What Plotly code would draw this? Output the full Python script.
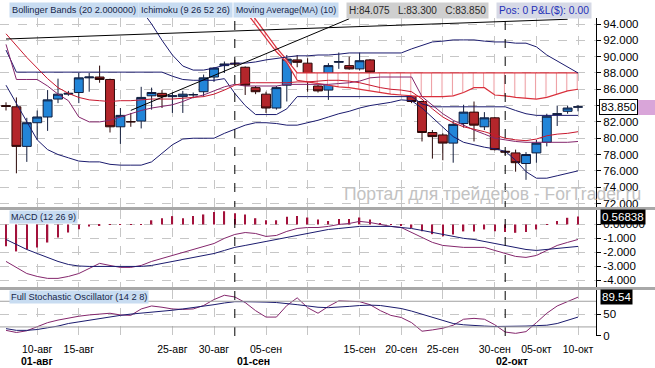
import plotly.graph_objects as go

# ---------------- DATA ----------------
dates = ["2011-08-07","2011-08-08","2011-08-09","2011-08-10","2011-08-11","2011-08-12",
         "2011-08-14","2011-08-15","2011-08-16","2011-08-17","2011-08-18","2011-08-19",
         "2011-08-21","2011-08-22","2011-08-23","2011-08-24","2011-08-25","2011-08-26",
         "2011-08-28","2011-08-29","2011-08-30","2011-08-31","2011-09-01","2011-09-02",
         "2011-09-04","2011-09-05","2011-09-06","2011-09-07","2011-09-08","2011-09-09",
         "2011-09-11","2011-09-12","2011-09-13","2011-09-14","2011-09-15","2011-09-16",
         "2011-09-18","2011-09-19","2011-09-20","2011-09-21","2011-09-22","2011-09-23",
         "2011-09-25","2011-09-26","2011-09-27","2011-09-28","2011-09-29","2011-09-30",
         "2011-10-02","2011-10-03","2011-10-04","2011-10-05","2011-10-06","2011-10-07",
         "2011-10-09","2011-10-10"]

opens = [84.0, 83.85, 79.0, 81.9, 82.6, 84.8, 85.4, 85.6, 87.4, 87.5,
         87.2, 81.4, 82.05, 82.1, 85.2, 85.5, 85.1, 85.1, 85.3, 85.7,
         87.5, 88.9, 89.2, 88.7, 86.2, 85.4, 83.7, 86.5, 89.6, 89.2,
         86.4, 85.9, 89.3, 88.9, 88.5, 89.6, 87.5, 86.9, 86.0, 86.5,
         84.5, 80.7, 80.4, 79.4, 81.8, 83.2, 81.4, 82.5, 78.4, 78.2,
         76.9, 78.2, 79.5, 82.9, 83.3, 83.8]
highs = [84.4, 85.0, 82.5, 83.4, 85.9, 87.3, 85.8, 88.0, 88.0, 88.9,
         87.3, 83.7, 83.1, 86.3, 86.2, 85.9, 85.6, 85.8, 85.6, 87.8,
         88.7, 89.4, 89.6, 88.8, 86.4, 85.7, 86.4, 90.2, 90.2, 89.8,
         86.5, 89.2, 90.5, 90.0, 90.5, 89.7, 87.6, 87.2, 86.9, 86.8,
         84.6, 81.0, 80.6, 82.1, 84.1, 84.5, 83.2, 82.6, 78.5, 78.6,
         78.3, 79.8, 83.0, 84.0, 84.0, 84.075]
lows = [83.4, 75.7, 77.1, 79.8, 80.9, 84.3, 85.2, 84.3, 85.7, 86.8,
        80.7, 79.3, 81.4, 81.2, 83.5, 83.7, 83.1, 83.1, 84.9, 85.1,
        86.9, 88.0, 88.8, 85.3, 85.4, 83.1, 83.5, 84.5, 88.7, 85.7,
        85.6, 84.7, 88.5, 88.4, 88.3, 87.5, 86.8, 85.6, 85.5, 84.3,
        79.6, 77.5, 77.3, 77.0, 81.3, 79.6, 81.0, 78.5, 78.0, 75.9,
        74.9, 77.0, 79.0, 81.5, 83.0, 83.3]
closes = [83.9, 79.0, 81.9, 82.6, 84.7, 85.4, 85.5, 87.4, 87.5, 87.2,
          81.4, 82.8, 82.0, 85.0, 85.6, 85.1, 85.2, 85.4, 85.35, 87.4,
          88.6, 89.1, 89.1, 86.5, 85.7, 83.7, 86.2, 89.7, 89.3, 87.0,
          85.8, 88.9, 89.4, 88.5, 89.5, 88.1, 86.9, 85.9, 86.7, 84.5,
          80.7, 80.2, 79.4, 81.7, 83.2, 81.6, 82.5, 78.6, 78.3, 77.0,
          78.0, 79.4, 82.7, 83.0, 83.7, 83.85]

bb_upper = [None, None, None, None, None, None, None, None, None, None,
            None, None, None, 95.75, 94.0, 92.0, 90.2, 88.85, 88.35, 88.35,
            88.6, 88.95, 89.2, 89.2, 89.35, 89.6, 89.8, 89.95, 90.1, 90.1,
            90.2, 90.2, 90.3, 90.45, 90.45, 90.45, 90.45, 90.45, 90.45, 90.95,
            91.4, 91.8, 91.9, 92.05, 92.05, 92.05, 91.9, 91.8, 91.8, 91.65,
            91.65, 91.2, 90.2, 89.45, 88.75, 88.0]
bb_lower = [86.5, 84.3, 82.0, 79.8, 78.6, 78.0, 77.6, 77.2, 77.1, 77.1,
            76.8, 76.7, 76.7, 76.7, 77.1, 78.2, 79.2, 79.9, 80.0, 80.0,
            80.0, 80.6, 81.1, 81.6, 81.9, 81.9, 81.8, 81.6, 81.6, 81.9,
            82.2, 82.6, 83.0, 83.3, 83.7, 84.0, 84.2, 84.4, 84.7, 84.6,
            83.7, 82.5, 81.3, 80.2, 79.5, 79.2, 78.9, 78.7, 78.4, 77.3,
            75.9, 75.1, 75.1, 75.4, 75.7, 76.0]
kijun = [90.8, 88.1, 88.1, 88.1, 88.1, 88.1, 88.1, 88.1, 88.1, 88.1,
         88.1, 88.1, 88.1, 88.1, 88.1, 88.1, 87.6, 87.2, 87.1, 87.1,
         87.1, 87.3, 85.5, 84.0, 82.9, 82.9, 82.9, 83.6, 85.1, 85.1,
         85.1, 85.1, 85.1, 85.1, 85.1, 85.1, 85.1, 85.1, 85.1, 85.1,
         84.2, 83.85, 83.85, 83.85, 83.85, 83.85, 83.85, 83.85, 83.85, 83.4,
         83.0, 82.8, 82.8, 82.8, 82.8, 82.8]
tenkan = [91.5, 87.2, 87.2, 87.2, 86.4, 85.4, 84.6, 82.6, 82.0, 82.0,
          82.2, 82.6, 83.0, 83.4, 83.7, 83.9, 84.1, 84.5, 85.0, 85.3,
          85.8, 86.3, 86.6, 86.4, 86.4, 86.4, 86.4, 86.6, 86.6, 86.6,
          86.6, 86.6, 86.7, 86.8, 87.0, 87.4, 87.5, 87.5, 87.5, 87.5,
          85.1, 84.0, 83.0, 82.2, 81.6, 81.0, 80.5, 80.0, 79.8, 79.6,
          79.5, 79.5, 79.5, 79.5, 79.5, 79.6]
ma10 = [92.8, 91.3, 89.9, 88.6, 87.3, 86.2, 85.5, 85.0, 84.7, 84.6,
        84.5, 84.6, 84.6, 84.7, 84.8, 84.8, 84.8, 84.9, 85.0, 85.1,
        85.4, 85.9, 86.5, 86.8, 86.8, 86.8, 86.8, 86.8, 86.9, 86.9,
        87.0, 87.1, 87.1, 87.0, 86.8, 86.5, 86.2, 86.0, 85.9, 85.7,
        84.8, 83.6, 82.6, 81.9, 81.4, 81.1, 80.8, 80.4, 80.0, 79.8,
        79.7, 79.9, 80.3, 80.5, 80.6, 80.8]
kumo_a = [None, None, None, None, None, None, None, None, None, None,
          None, None, None, None, None, None, None, None, None, None,
          None, None, None, 95.6, 93.9, 92.2, 90.6, 89.3, 87.1, 86.9,
          86.7, 86.5, 86.3, 86.2, 86.0, 85.8, 85.6, 85.4, 85.3, 85.2,
          85.1, 85.1, 85.1, 85.2, 85.6, 86.2, 86.2, 85.3, 85.2, 85.0,
          84.9, 84.8, 85.0, 85.4, 85.8, 86.0]
kumo_b = [None, None, None, None, None, None, None, None, None, None,
          None, None, None, None, None, None, None, None, None, None,
          None, None, None, 96.3, 94.6, 92.8, 91.1, 89.6, 88.0, 88.0,
          88.0, 88.0, 88.0, 88.0, 88.0, 88.0, 88.0, 88.0, 88.0, 88.0,
          88.0, 88.0, 88.0, 88.0, 88.0, 88.0, 88.0, 88.0, 88.0, 88.0,
          88.0, 88.0, 88.0, 88.0, 88.0, 88.0]
trend1_dates = ["2011-08-07", "2011-10-09"]
trend1_prices = [92.16, 94.58]
trend2_dates = ["2011-08-21", "2011-09-14"]
trend2_prices = [83.41, 94.64]

macd_line = [-2.66, -3.09, -3.53, -3.74, -3.88, -3.88, -3.74, -3.53, -3.17, -2.8,
             -2.95, -3.09, -3.09, -2.95, -2.66, -2.45, -2.23, -2.01, -1.8, -1.58,
             -1.37, -1.0, -0.72, -0.58, -0.65, -0.86, -0.79, -0.5, -0.29, -0.22,
             -0.22, -0.14, 0.0, 0.07, 0.22, 0.14, 0.0, -0.14, -0.22, -0.58,
             -0.94, -1.29, -1.51, -1.58, -1.65, -1.65, -1.65, -1.87, -2.09, -2.3,
             -2.37, -2.23, -1.87, -1.51, -1.29, -1.08]
macd_signal = [-1.08, -1.44, -1.8, -2.09, -2.37, -2.66, -2.88, -2.99, -3.02, -3.02,
               -3.02, -3.02, -3.02, -3.02, -2.95, -2.8, -2.66, -2.52, -2.37, -2.23,
               -2.09, -1.87, -1.65, -1.51, -1.37, -1.22, -1.08, -0.94, -0.79, -0.65,
               -0.5, -0.36, -0.29, -0.22, -0.14, -0.14, -0.14, -0.14, -0.22, -0.29,
               -0.43, -0.58, -0.72, -0.86, -1.0, -1.08, -1.22, -1.37, -1.51, -1.65,
               -1.8, -1.87, -1.8, -1.73, -1.65, -1.58]
macd_hist = [-1.56, -1.94, -1.8, -1.66, -1.3, -0.94, -0.58, -0.35, -0.15, -0.05,
             -0.03, 0.02, -0.02, 0.03, 0.3, 0.45, 0.6, 0.45, 0.6, 0.72,
             0.9, 0.95, 0.8, 0.72, 0.45, 0.3, 0.3, 0.55, 0.6, 0.5,
             0.35, 0.25, 0.4, 0.4, 0.5, 0.35, 0.1, 0.03, -0.05, -0.25,
             -0.48, -0.7, -0.85, -0.72, -0.5, -0.5, -0.36, -0.48, -0.55, -0.6,
             -0.55, -0.36, 0.03, 0.25, 0.48, 0.57]
macd_last = 0.56838

stoch_k = [12, 7, 11, 20, 30, 36, 41, 45, 48, 50,
           52, 48, 47, 62, 69, 66, 62, 61, 62, 70,
           84, 94, 90, 77, 58, 43, 43, 70, 88, 65,
           52, 68, 81, 80, 79, 72, 58, 47, 42, 30,
           10, 13, 17, 24, 38, 40, 38, 25, 8, 5,
           9, 30, 52, 69, 80, 89.54]
stoch_d = [16, 12, 12, 14, 18, 22, 28, 32, 36, 40,
           44, 47, 50, 52, 54, 57, 59, 62, 65, 68,
           72, 76, 79, 79, 79, 78, 77, 75, 72, 69,
           66, 65, 66, 68, 70, 71, 70, 67, 63, 57,
           50, 42, 35, 28, 25, 23, 22, 21, 21, 21,
           22, 23, 24, 28, 35, 43]
stoch_levels = [20, 80]

grid_dates = ["2011-08-10","2011-08-15","2011-08-19","2011-08-25","2011-08-30","2011-09-05",
              "2011-09-09","2011-09-15","2011-09-20","2011-09-25","2011-09-30","2011-10-05",
              "2011-10-10"]
grid_labels = ["10-авг","15-авг","","25-авг","30-авг","05-сен",
               "","15-сен","20-сен","25-сен","30-сен","05-окт","10-окт"]
month_sep_dates = ["2011-09-01", "2011-10-02"]
month_labels = ["01-авг", "01-сен", "02-окт"]
price_ticks = [72, 74, 76, 78, 80, 82, 84, 86, 88, 90, 92, 94]
price_ticktext = ["72.000","74.000","76.000","78.000","80.000","82.000","",
                  "86.000","88.000","90.000","92.000","94.000"]
macd_ticks = [0, -1, -2, -3, -4]
macd_ticktext = ["0.00000", "-1.000", "-2.000", "-3.000", "-4.000"]
stoch_ticks = [0, 50]
stoch_ticktext = ["0", "50"]

header_items = ["Bollinger Bands (20 2.000000)", "Ichimoku (9 26 52 26)", "Moving Average(MA) (10)"]
ohlc_header = "H:%.3f   L:%.3f   C:%.3f" % (highs[-1], lows[-1], closes[-1])
pos_header = "Pos: 0 P&L($): 0.00"
watermark = "Портал для трейдеров - ForTrader.ru"

# ---------------- STYLE / GEOMETRY ----------------
W, H = 655, 368
PL, PR, PT, PB = 0, 596, 18, 336
FONT = "Liberation Sans, Arial, sans-serif"
NAVY = "#1b1b6e"
RED = "#c8182e"
PURPLE = "#84266c"
CLOUD = "#d9303c"
GRID = "#c6c6c6"
HDR = "#c8dcf1"

def px(xp):
    return (xp - PL) / (PR - PL)

def py(yp):
    return (PB - yp) / (PB - PT)

X = list(range(len(dates)))
def ix(d):
    return dates.index(d)

fig = go.Figure()

def line(xs, ys, color, width=1, xa="x", ya="y", dash=None):
    fig.add_trace(go.Scatter(x=xs, y=ys, mode="lines",
                             line=dict(color=color, width=width, dash=dash),
                             xaxis=xa, yaxis=ya, hoverinfo="skip",
                             showlegend=False, connectgaps=False))

# Ichimoku cloud
kx = [i for i in X if kumo_a[i] is not None]
line(kx, [kumo_b[i] for i in kx], CLOUD, 1.2)
fig.add_trace(go.Scatter(x=kx, y=[kumo_a[i] for i in kx], mode="lines",
                         line=dict(color=CLOUD, width=1.2), fill="tonexty",
                         fillpattern=dict(shape="|", fgcolor=CLOUD, bgcolor="white",
                                          size=10.4, solidity=0.1),
                         xaxis="x", yaxis="y", hoverinfo="skip", showlegend=False))

# candles
fig.add_trace(go.Candlestick(x=X, open=opens, high=highs, low=lows, close=closes,
                             increasing=dict(line=dict(color="#111c3c", width=1), fillcolor="#2285d8"),
                             decreasing=dict(line=dict(color="#2a0808", width=1), fillcolor="#b3262b"),
                             whiskerwidth=0, xaxis="x", yaxis="y", hoverinfo="skip",
                             showlegend=False))

# indicator lines
line(X, bb_upper, NAVY)
line(X, bb_lower, NAVY)
line(X, kijun, NAVY)
line(X, tenkan, PURPLE)
line(X, ma10, RED)
line([ix(d) for d in trend1_dates], trend1_prices, "#000000", 1)
line([ix(d) for d in trend2_dates], trend2_prices, "#000000", 1)

# MACD
fig.add_trace(go.Bar(x=X, y=macd_hist, width=0.13, marker=dict(color="#a3123c", line=dict(width=0)),
                     xaxis="x2", yaxis="y2", hoverinfo="skip", showlegend=False))
line(X, macd_line, PURPLE, 1, "x2", "y2")
line(X, macd_signal, NAVY, 1, "x2", "y2")

# Stochastic
line(X, stoch_k, PURPLE, 1, "x3", "y3")
line(X, stoch_d, NAVY, 1, "x3", "y3")

xr = [(PL - 6) / 10.4, (PR - 6) / 10.4]
gidx = [ix(d) for d in grid_dates]
common_x = dict(range=xr, tickvals=gidx, showgrid=True, gridcolor=GRID, griddash="dash",
                gridwidth=1, zeroline=False, showline=False, fixedrange=True, automargin=False)
axis_font = dict(family=FONT, size=11.5, color="black")
common_y = dict(side="right", showgrid=True, gridcolor=GRID, griddash="dash", zeroline=False,
                showline=True, linecolor="black", linewidth=1, ticks="outside", ticklen=4,
                tickcolor="black", tickfont=axis_font, automargin=False, fixedrange=True)

d_main = [py(207), 1]
d_macd = [py(287), py(210)]
d_stoch = [0, py(290)]

fig.update_layout(
    width=W, height=H,
    margin=dict(l=PL, r=W - PR, t=PT, b=H - PB, pad=0),
    paper_bgcolor="white", plot_bgcolor="white",
    showlegend=False, boxgap=0.1, boxgroupgap=0.05,
    font=dict(family=FONT, color="black"),
    xaxis=dict(**common_x, anchor="y", showticklabels=False, rangeslider=dict(visible=False)),
    xaxis2=dict(**common_x, anchor="y2", showticklabels=False),
    xaxis3=dict(**common_x, anchor="y3", ticktext=grid_labels, showticklabels=True,
                ticks="outside", ticklen=3, tickcolor="rgba(0,0,0,0)",
                tickfont=dict(family=FONT, size=10.5, color="black")),
    yaxis=dict(**common_y, domain=d_main, anchor="x", range=[71.57, 94.735],
               tickvals=price_ticks, ticktext=price_ticktext),
    yaxis2=dict(**common_y, domain=d_macd, anchor="x2", range=[-4.5, 1.04],
                tickvals=macd_ticks, ticktext=macd_ticktext),
    yaxis3=dict(**common_y, domain=d_stoch, anchor="x3", range=[-1.2, 106.3],
                tickvals=stoch_ticks, ticktext=stoch_ticktext),
)

shapes = []
for d in month_sep_dates:
    shapes.append(dict(type="line", xref="x", yref="paper", x0=ix(d), x1=ix(d), y0=0, y1=1,
                       line=dict(color="black", width=1, dash="dash")))
for lv in stoch_levels:
    shapes.append(dict(type="line", xref="paper", yref="y3", x0=0, x1=1, y0=lv, y1=lv,
                       line=dict(color="#a0a0a0", width=1)))
for yp in (208.5, 288.5):
    shapes.append(dict(type="line", xref="paper", yref="paper", x0=0, x1=W / (PR - PL),
                       y0=py(yp), y1=py(yp), line=dict(color="#a8a8a8", width=3)))
shapes.append(dict(type="rect", xref="paper", yref="paper", x0=px(638), x1=px(655),
                   y0=py(115), y1=py(100), fillcolor="#d9a5d9", line=dict(width=0)))
fig.update_layout(shapes=shapes)

ann = []
hy = py(10)
hx = [9, 138, 233]
hsz = [9.2, 9.2, 8.8]
for t, x0, sz in zip(header_items, hx, hsz):
    ann.append(dict(text=t, xref="paper", yref="paper", x=px(x0), y=hy, xanchor="left",
                    yanchor="middle", showarrow=False, bgcolor=HDR, borderpad=2,
                    font=dict(family=FONT, size=sz, color="#17264a")))
ann.append(dict(text=ohlc_header, xref="paper", yref="paper", x=px(346), y=hy, xanchor="left",
                yanchor="middle", showarrow=False, bgcolor="#cfcfcf", borderpad=2,
                font=dict(family=FONT, size=10, color="#2a2a2a")))
ann.append(dict(text=pos_header, xref="paper", yref="paper", x=px(496), y=hy, xanchor="left",
                yanchor="middle", showarrow=False, bgcolor="#d6d9e6", borderpad=2,
                font=dict(family=FONT, size=10.3, color="#2430b8")))
ann.append(dict(text="MACD (12 26 9)", xref="paper", yref="paper", x=px(9), y=py(216.5),
                xanchor="left", yanchor="middle", showarrow=False, bgcolor=HDR, borderpad=1,
                font=dict(family=FONT, size=9, color="#17264a")))
ann.append(dict(text="Full Stochastic Oscillator (14 2 8)", xref="paper", yref="paper",
                x=px(9), y=py(296.5), xanchor="left", yanchor="middle", showarrow=False,
                bgcolor=HDR, borderpad=1, font=dict(family=FONT, size=9.3, color="#17264a")))
ann.append(dict(text=watermark, xref="paper", yref="paper", x=px(492), y=py(194),
                xanchor="center", yanchor="middle", showarrow=False,
                font=dict(family=FONT, size=17.5, color="#c2c2c2")))
ann.append(dict(text="%.3f" % closes[-1], xref="paper", yref="y", x=px(599), y=closes[-1],
                xanchor="left", yanchor="middle", showarrow=False, bgcolor="white",
                bordercolor="black", borderwidth=1, borderpad=1, font=axis_font))
ann.append(dict(text="%.5f" % macd_last, xref="paper", yref="y2", x=px(600), y=macd_last,
                xanchor="left", yanchor="middle", showarrow=False, bgcolor="black",
                borderpad=1, font=dict(family=FONT, size=11.5, color="white")))
ann.append(dict(text="%.2f" % stoch_k[-1], xref="paper", yref="y3", x=px(600), y=stoch_k[-1],
                xanchor="left", yanchor="middle", showarrow=False, bgcolor="black",
                borderpad=1, font=dict(family=FONT, size=11.5, color="white")))
for t, xc in zip(month_labels, [37, 253, 512]):
    ann.append(dict(text="<b>%s</b>" % t, xref="paper", yref="paper", x=px(xc), y=py(361),
                    xanchor="center", yanchor="middle", showarrow=False,
                    font=dict(family=FONT, size=10.5, color="black")))
fig.update_layout(annotations=ann)

fig.write_html("out.html", config={"displayModeBar": False},
               post_script="document.body.style.margin='0px';")
